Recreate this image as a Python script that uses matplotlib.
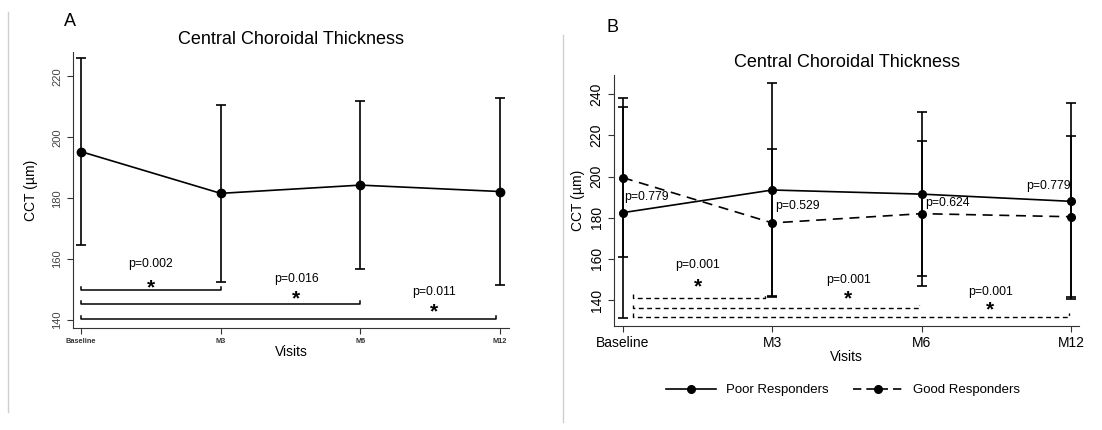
import matplotlib.pyplot as plt
from matplotlib.lines import Line2D

plt.rcParams['font.family'] = ['Liberation Sans', 'DejaVu Sans']

visits = ['Baseline', 'M3', 'M6', 'M12']
x = [0, 1, 2, 3]

# panel A: all patients
cct_all = [195.3, 181.6, 184.3, 182.2]
sd_all = [30.8, 29.0, 27.5, 30.8]
brackets_a = [(0, 1, 150.0), (0, 2, 145.2), (0, 2.97, 140.3)]
pvals_a = ['p=0.002', 'p=0.016', 'p=0.011']
ptext_a = [(0.50, 158.4, 152.0), (1.54, 153.4, 148.2), (2.53, 149.2, 144.0)]

# panel B: poor vs good responders
cct_poor = [182.5, 193.5, 191.5, 188.0]
sd_poor = [51.2, 52.0, 40.0, 47.6]
cct_good = [199.5, 177.5, 182.0, 180.5]
sd_good = [38.7, 35.7, 35.1, 39.1]
brackets_b = [(0.07, 0.95, 141.2), (0.07, 1.98, 136.0), (0.07, 2.99, 132.0)]
pvals_b = ['p=0.001', 'p=0.001', 'p=0.001']
ptext_b = [(0.50, 157.0, 148.5), (1.51, 150.0, 142.5), (2.46, 144.0, 137.0)]
between_p = ['p=0.779', 'p=0.529', 'p=0.624', 'p=0.779']
between_pos = [(0.16, 190.3), (1.17, 185.8), (2.17, 187.0), (2.85, 195.5)]

fig = plt.figure(figsize=(11.02, 4.30), dpi=100)

# thin gray separators
fig.add_artist(Line2D([8/1102, 8/1102], [1-12/430, 1-412/430], color='#cfcfcf', lw=1))
fig.add_artist(Line2D([563/1102, 563/1102], [1-35/430, 1-422/430], color='#cfcfcf', lw=1))


def style(ax):
    ax.spines['top'].set_visible(False)
    ax.spines['right'].set_visible(False)
    ax.spines['left'].set_color('#333333')
    ax.spines['bottom'].set_color('#333333')
    ax.tick_params(direction='out', length=4, color='#333333')


def bracket(ax, x0, x1, y, h, **kw):
    ax.plot([x0, x0, x1, x1], [y + h, y, y, y + h], color='k', **kw)


# ---- A ----
ax = fig.add_axes([73/1102, 1-328/430, (509-73)/1102, (328-52)/430])
style(ax)
ax.errorbar(x, cct_all, yerr=sd_all, color='k', lw=1.2, marker='o', ms=6,
            capsize=3.5, elinewidth=1.2, capthick=1.2)
for (x0, x1, y), p, (tx, ty, sy) in zip(brackets_a, pvals_a, ptext_a):
    bracket(ax, x0, x1, y, 0.9, lw=1.1)
    ax.text(tx, ty, p, ha='center', va='center', fontsize=8.8)
    ax.text(tx, sy - 1.4, '*', ha='center', va='center', fontsize=15, fontweight='bold')
ax.set_xlim(-0.057, 3.064)
ax.set_ylim(137.4, 228)
ax.set_xticks(x)
ax.set_xticklabels(visits, fontsize=5.3, fontweight='bold', color='#333333')
ax.set_yticks([140, 160, 180, 200, 220])
ax.tick_params(axis='y', labelsize=8, labelcolor='#444444')
for lab in ax.get_yticklabels():
    lab.set_rotation(90)
    lab.set_va('center')
ax.set_ylabel('CCT (µm)', fontsize=10)
ax.yaxis.set_label_coords(-0.080, 0.5)
ax.set_xlabel('Visits', fontsize=10, labelpad=0)
ax.set_title('Central Choroidal Thickness', fontsize=13, pad=6)
fig.text(70/1102, 1-22/430, 'A', fontsize=13, ha='center', va='center')

# ---- B ----
bx = fig.add_axes([614/1102, 1-326/430, (1079-614)/1102, (326-75)/430])
style(bx)
bx.errorbar(x, cct_poor, yerr=sd_poor, color='k', lw=1.2, marker='o', ms=5.5,
            capsize=3.5, elinewidth=1.2, capthick=1.2, label='Poor Responders')
bx.errorbar(x, cct_good, yerr=sd_good, color='k', lw=1.2, marker='o', ms=5.5,
            capsize=3.5, elinewidth=1.2, capthick=1.2, ls=(0, (6, 4)),
            label='Good Responders')
for (x0, x1, y), p, (tx, ty, sy) in zip(brackets_b, pvals_b, ptext_b):
    bracket(bx, x0, x1, y, 1.6, lw=1.0, ls=(0, (3.5, 2.5)))
    bx.text(tx, ty, p, ha='center', va='center', fontsize=8.8)
    bx.text(tx, sy - 2.0, '*', ha='center', va='center', fontsize=15, fontweight='bold')
for p, (tx, ty) in zip(between_p, between_pos):
    bx.text(tx, ty, p, ha='center', va='center', fontsize=8.8)
bx.set_xlim(-0.06, 3.054)
bx.set_ylim(127.4, 249.4)
bx.set_xticks(x)
bx.set_xticklabels(visits, fontsize=10)
bx.set_yticks([140, 160, 180, 200, 220, 240])
bx.tick_params(axis='y', labelsize=10)
for lab in bx.get_yticklabels():
    lab.set_rotation(90)
    lab.set_va('center')
bx.set_ylabel('CCT (µm)', fontsize=10)
bx.yaxis.set_label_coords(-0.062, 0.5)
bx.set_xlabel('Visits', fontsize=10, labelpad=0)
bx.set_title('Central Choroidal Thickness', fontsize=13, pad=6)
fig.text(613/1102, 1-27/430, 'B', fontsize=13, ha='center', va='center')

handles = [Line2D([], [], color='k', lw=1.2, marker='o', ms=5.5),
           Line2D([], [], color='k', lw=1.2, marker='o', ms=5.5, ls=(0, (5, 3)))]
fig.legend(handles, ['Poor Responders', 'Good Responders'], loc='center',
           bbox_to_anchor=(843/1102, 1-390/430), ncol=2, frameon=False,
           fontsize=9.5, handlelength=3.8, columnspacing=1.9, handletextpad=0.7)

fig.savefig('out.png', dpi=100)
